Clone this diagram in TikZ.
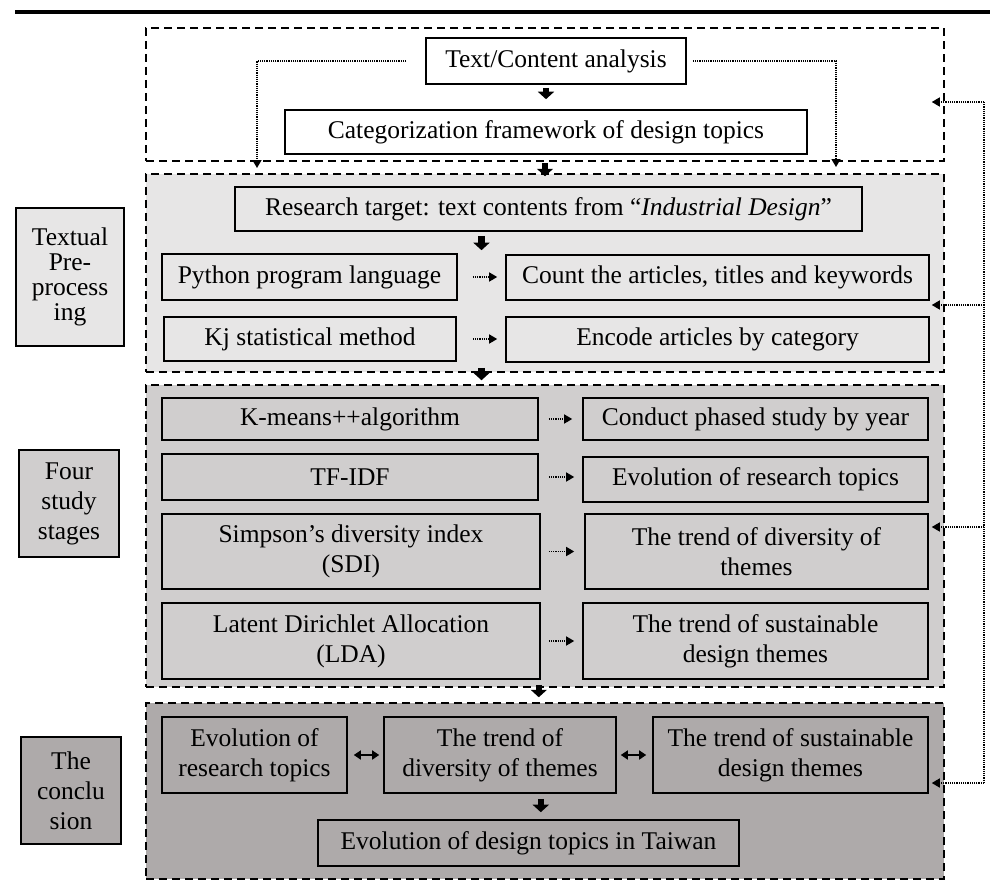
\documentclass[tikz,border=0pt]{standalone}
\usepackage{fontspec}
\setmainfont{Liberation Serif}
\usetikzlibrary{arrows.meta,calc}
\definecolor{shadeA}{HTML}{E7E6E6}
\definecolor{shadeB}{HTML}{D0CECE}
\definecolor{shadeC}{HTML}{AEAAAA}
\begin{document}
\begin{tikzpicture}[x=1pt,y=-1pt,
  txt/.style={font=\fontsize{25.5}{30}\selectfont},
  box/.style={txt, draw, line width=1.6pt, inner sep=0pt, align=center},
  panel/.style={draw, line width=1.5pt, dash pattern=on 8pt off 5pt, inner sep=0pt},
  dotline/.style={line width=1.4pt, dash pattern=on 1.2pt off 1pt},
  dotarrow/.style={dotline, -{Triangle[length=8pt,width=9pt]}},
  blockarrow/.style={line width=6.5pt, -{Triangle[length=7.5pt,width=16pt]}},
  linkarrow/.style={line width=1.6pt, {Triangle[length=7pt,width=9pt]}-{Triangle[length=7pt,width=9pt]}},
]
\useasboundingbox (0,0) rectangle (990,888);

% heading rule
\draw[line width=4pt] (15,12) -- (990,12);

% stage panels
\node[panel, minimum width=798pt, minimum height=133pt] (p1) at (545,94.5) {};
\node[panel, fill=shadeA, minimum width=798pt, minimum height=198pt] (p2) at (545,273) {};
\node[panel, fill=shadeB, minimum width=798pt, minimum height=302pt] (p3) at (545,536) {};
\node[panel, fill=shadeC, minimum width=798pt, minimum height=176pt] (p4) at (545,791) {};

% stage labels
\node[box, fill=shadeA, font=\fontsize{25.5}{25}\selectfont, minimum width=108pt, minimum height=138pt] (l1) at (70,277) {Textual\\Pre-\\process\\ing};
\node[box, fill=shadeB, minimum width=100pt, minimum height=107pt] (l2) at (69,503.5) {Four\\study\\stages};
\node[box, fill=shadeC, minimum width=100pt, minimum height=107pt] (l3) at (71,790.5) {The\\conclu\\sion};

% analysis framework
\node[box, fill=white, minimum width=260pt, minimum height=46pt] (tca) at (556,61) {Text/Content analysis};
\node[box, fill=white, minimum width=522pt, minimum height=44pt] (cat) at (546,132) {Categorization framework of design topics};

% pre-processing
\node[box, fill=shadeA, minimum width=627pt, minimum height=44pt] (rt) at (548.5,209) {Research target: text contents from “\textit{Industrial Design}”};
\node[box, fill=shadeA, minimum width=295pt, minimum height=46pt] (py) at (309.5,277) {Python program language};
\node[box, fill=shadeA, minimum width=292pt, minimum height=44pt] (kj) at (310,339) {Kj statistical method};
\node[box, fill=shadeA, minimum width=423pt, minimum height=45pt] (cnt) at (717.5,277.5) {Count the articles, titles and keywords};
\node[box, fill=shadeA, minimum width=423pt, minimum height=45pt] (enc) at (717.5,339.5) {Encode articles by category};

% study stages
\node[box, fill=shadeB, minimum width=376pt, minimum height=42pt] (km) at (350,419) {K-means++algorithm};
\node[box, fill=shadeB, minimum width=345pt, minimum height=42pt] (cond) at (755.5,419) {Conduct phased study by year};
\node[box, fill=shadeB, minimum width=376pt, minimum height=46pt] (tf) at (350,477) {TF-IDF};
\node[box, fill=shadeB, minimum width=345pt, minimum height=45pt] (evo) at (755.5,479.5) {Evolution of research topics};
\node[box, fill=shadeB, minimum width=378pt, minimum height=75pt] (sdi) at (351,551.5) {Simpson’s diversity index\\(SDI)};
\node[box, fill=shadeB, minimum width=343pt, minimum height=75pt] (div) at (756.5,551.5) {The trend of diversity of\\themes};
\node[box, fill=shadeB, minimum width=378pt, minimum height=76pt] (lda) at (351,641) {Latent Dirichlet Allocation\\(LDA)};
\node[box, fill=shadeB, minimum width=345pt, minimum height=76pt] (sus) at (755.5,641) {The trend of sustainable\\design themes};

% conclusion
\node[box, fill=shadeC, minimum width=185pt, minimum height=76pt] (cevo) at (254.5,755) {Evolution of\\research topics};
\node[box, fill=shadeC, minimum width=232pt, minimum height=76pt] (cdiv) at (500,755) {The trend of\\diversity of themes};
\node[box, fill=shadeC, minimum width=275pt, minimum height=76pt] (csus) at (790.5,755) {The trend of sustainable\\design themes};
\node[box, fill=shadeC, minimum width=421pt, minimum height=46pt] (tw) at (528.5,843) {Evolution of design topics in Taiwan};

% dotted branches from the analysis step
\coordinate (bl) at (257,168);
\coordinate (br) at (836,167);
\draw[dotarrow, shorten <=19pt] (tca.west) -| (bl);
\draw[dotarrow, shorten <=6pt] (tca.east) -| (br);

% main flow arrows
\coordinate (gap) at ($(py.east)!0.5!(cnt.west)$);
\draw[blockarrow, shorten <=3pt, shorten >=10pt] (cat.north |- tca.south) -- (cat.north);
\draw[blockarrow, shorten <=1pt, shorten >=-3pt] (p1.south) -- (p2.north);
\draw[blockarrow, shorten <=4pt, shorten >=3pt] (gap |- rt.south) -- (gap |- py.north);
\draw[blockarrow, shorten <=-5pt, shorten >=4pt] (gap |- p2.south) -- (gap |- p3.north);
\draw[blockarrow, shorten <=-3pt, shorten >=5pt] (km.east |- p3.south) -- (km.east |- p4.north);
\draw[blockarrow, shorten <=5pt, shorten >=7pt] (sdi.east |- cdiv.south) -- (sdi.east |- tw.north);

% method to outcome
\draw[dotarrow, shorten <=15pt, shorten >=8pt] (py.east) -- (py.east -| cnt.west);
\draw[dotarrow, shorten <=16pt, shorten >=8pt] (kj.east) -- (kj.east -| enc.west);
\draw[dotarrow, shorten <=10pt, shorten >=10pt] (km.east) -- (km.east -| cond.west);
\draw[dotarrow, shorten <=10pt, shorten >=8pt] (tf.east) -- (tf.east -| evo.west);
\draw[dotarrow, shorten <=8pt, shorten >=10pt] (sdi.east) -- (sdi.east -| div.west);
\draw[dotarrow, shorten <=8pt, shorten >=8pt] (lda.east) -- (lda.east -| sus.west);

% links among conclusions
\draw[linkarrow, shorten <=6pt, shorten >=4pt] (cevo.east) -- (cdiv.west);
\draw[linkarrow, shorten <=4pt, shorten >=6pt] (cdiv.east) -- (csus.west);

% feedback bracket on the right
\coordinate (s1) at (984,102);
\coordinate (s2) at (984,305);
\coordinate (s3) at (984,527);
\coordinate (s4) at (984,783);
\draw[dotline] (s1) -- (s4);
\draw[dotarrow, shorten >=-13pt] (s1) -- (p1.east |- s1);
\draw[dotarrow, shorten >=-13pt] (s2) -- (p2.east |- s2);
\draw[dotarrow, shorten >=-13pt] (s3) -- (p3.east |- s3);
\draw[dotarrow, shorten >=-13pt] (s4) -- (p4.east |- s4);
\end{tikzpicture}
\end{document}
